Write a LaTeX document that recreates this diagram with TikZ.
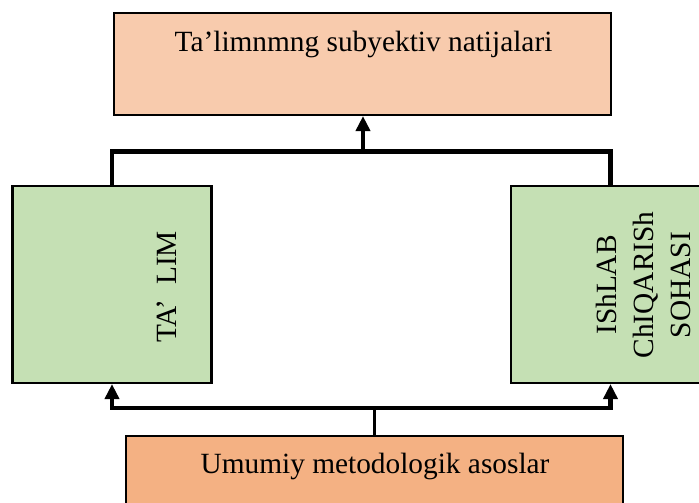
\documentclass[tikz,border=0pt]{standalone}
\usepackage{fontspec}
\setmainfont{Liberation Serif}
\usetikzlibrary{positioning,arrows.meta}
\definecolor{respeach}{HTML}{F8CBAD}
\definecolor{fieldgreen}{HTML}{C5E0B4}
\definecolor{baseorange}{HTML}{F4B183}
\tikzset{
  box/.style={draw=black,line width=1.2pt,inner sep=0pt},
  resbox/.style={box,fill=respeach,minimum width=9.94cm,minimum height=2.04cm},
  fieldbox/.style={box,fill=fieldgreen,minimum width=3.98cm,minimum height=3.94cm},
  basebox/.style={box,fill=baseorange,minimum width=9.94cm,minimum height=2.04cm},
  txt/.style={font=\fontsize{16.7}{21}\selectfont,inner sep=0pt},
  bus/.style={line width=2.8pt},
  stem/.style={line width=1.5pt},
  tip/.style={-{Triangle[width=0.28cm,length=0.3cm]}}
}
\begin{document}
\begin{tikzpicture}[scale=1.0]
\useasboundingbox (0,0) rectangle (13.98,10.04);

\node[resbox] (res) at (7.25,8.76) {};
\node[fieldbox] (lbox) at (2.24,4.35) {};
\node[fieldbox] (rbox) at (12.21,4.35) {};
\node[basebox] (base) at (7.49,0.30) {};

\node[txt,anchor=base] (restxt) at (7.27,9.0) {Ta’limnmng subyektiv natijalari};
\node[txt,rotate=90] (ltxt) at (3.33,4.3) {TA’~~LIM};
\node[txt,rotate=90,align=center] (rtxt) at (12.87,4.34) {IShLAB\\ChIQARISh\\SOHASI};
\node[txt,anchor=base] (basetxt) at (7.5,0.58) {Umumiy metodologik asoslar};

\coordinate (upbus) at (7.26,7.01);
\coordinate (lowbus) at (7.5,1.88);

\draw[bus] (lbox.north) |- (upbus) -| (rbox.north);
\draw[bus,tip] (upbus) -- (upbus |- res.south);

\draw[stem] (base.north) -- (base.north |- lowbus);
\draw[bus,tip] (lowbus) -| (lbox.south);
\draw[bus,tip] (lowbus) -| (rbox.south);
\end{tikzpicture}
\end{document}
